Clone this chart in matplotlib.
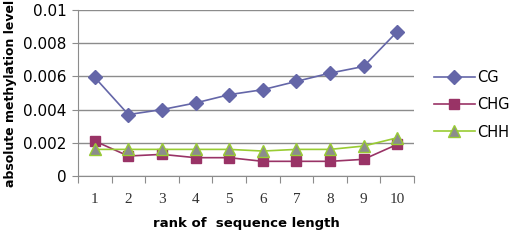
import matplotlib
matplotlib.use("Agg")
import matplotlib.pyplot as plt
import numpy as np

ranks = ["1", "2", "3", "4", "5", "6", "7", "8", "9", "10"]
cg = [0.00594, 0.0037, 0.0040, 0.0044, 0.0049, 0.0052, 0.0057, 0.0062, 0.0066, 0.0087]
chg = [0.0021, 0.0012, 0.0013, 0.0011, 0.0011, 0.00088, 0.00088, 0.00088, 0.0010, 0.0019]
chh = [0.0016, 0.0016, 0.0016, 0.0016, 0.0016, 0.0015, 0.0016, 0.0016, 0.0018, 0.0023]

fig = plt.figure(figsize=(5.13, 2.4), dpi=100)
ax = fig.add_axes([0.152, 0.267, 0.655, 0.691])

x = np.arange(len(ranks))
ax.plot(x, cg, color="#6466A8", marker="D", markersize=7, lw=1.2, label="CG", zorder=3)
ax.plot(x, chg, color="#993366", marker="s", markersize=7, lw=1.2, label="CHG", zorder=4)
ax.plot(x, chh, color="#99CC33", marker="^", markersize=8, lw=1.2,
        markerfacecolor="#8C8C8C", markeredgecolor="#99CC33", label="CHH", zorder=5)

ax.set_xlim(-0.5, 9.5)
ax.set_ylim(0, 0.01)
ax.set_yticks([0, 0.002, 0.004, 0.006, 0.008, 0.01])
ax.set_yticklabels(["0", "0.002", "0.004", "0.006", "0.008", "0.01"], fontsize=11)
ax.yaxis.grid(True, color="#8C8C8C", lw=1)
ax.set_axisbelow(True)
ax.tick_params(axis="y", length=4, color="#8C8C8C", pad=4)

ax.set_xticks(np.arange(-0.5, 10, 1))
ax.set_xticklabels([])
ax.set_xticks(x, minor=True)
ax.set_xticklabels(ranks, minor=True, fontfamily="Liberation Serif", fontsize=11, color="#333333")
ax.tick_params(axis="x", which="major", length=5, color="#8C8C8C")
ax.tick_params(axis="x", which="minor", length=0, pad=12)

for s in ["top", "right"]:
    ax.spines[s].set_visible(False)
for s in ["left", "bottom"]:
    ax.spines[s].set_color("#8C8C8C")

ax.set_xlabel("rank of  sequence length", fontsize=9.5, fontweight="bold", labelpad=8)
ax.set_ylabel("absolute methylation level", fontsize=9, fontweight="bold")
ax.yaxis.set_label_coords(-0.18, 0.5)

ax.legend(loc="center left", bbox_to_anchor=(1.02, 0.43), frameon=False, fontsize=10.5,
          handlelength=2.8, labelspacing=0.85, handletextpad=0.2)

fig.savefig("out.png", dpi=100)
